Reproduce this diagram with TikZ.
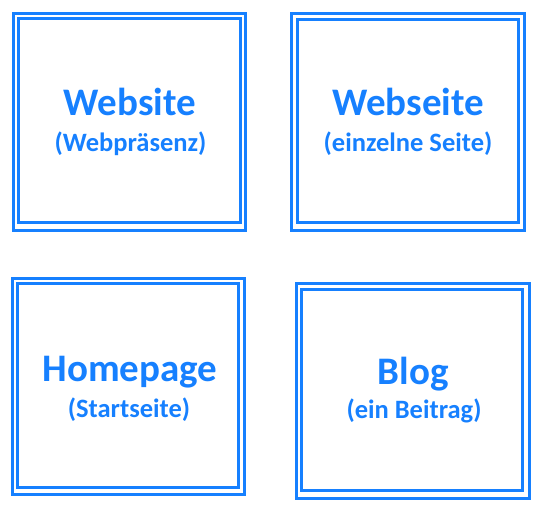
\documentclass[tikz,border=0pt]{standalone}
\usepackage{fontspec}
\setmainfont{Carlito}
\definecolor{boxblue}{RGB}{22,128,255}
\tikzset{
  frame/.style={draw=boxblue, line width=3pt},
  maintext/.style={text=boxblue, font=\bfseries\fontsize{39}{42}\selectfont, anchor=base, inner sep=0pt},
  subtext/.style={text=boxblue, font=\bfseries\fontsize{26.5}{30}\selectfont, anchor=base, inner sep=0pt}
}
\begin{document}
\begin{tikzpicture}[x=1pt,y=-1pt]
\useasboundingbox (0,0) rectangle (545,515);
% Box 1
\draw[frame] (13,13) rectangle (245,230);
\draw[frame] (18.5,18.5) rectangle (240,222.5);
\node[maintext] (t1) at (130,115) {Website};
\node[subtext] (s1) at (130.5,151) {(Webpräsenz)};
% Box 2
\draw[frame] (291,13.5) rectangle (524,230);
\draw[frame] (297,19) rectangle (518.5,222.5);
\node[maintext] (t2) at (408,115) {Webseite};
\node[subtext] (s2) at (408,151) {(einzelne Seite)};
% Box 3
\draw[frame] (12,278.5) rectangle (244,494);
\draw[frame] (17.5,283.5) rectangle (238.5,487.5);
\node[maintext] (t3) at (130,381) {Homepage};
\node[subtext] (s3) at (129,417) {(Startseite)};
% Box 4
\draw[frame] (296,283) rectangle (529,498.5);
\draw[frame] (301.5,289) rectangle (522.5,490.5);
\node[maintext] (t4) at (413,384) {Blog};
\node[subtext] (s4) at (414,418) {(ein Beitrag)};
\end{tikzpicture}
\end{document}
